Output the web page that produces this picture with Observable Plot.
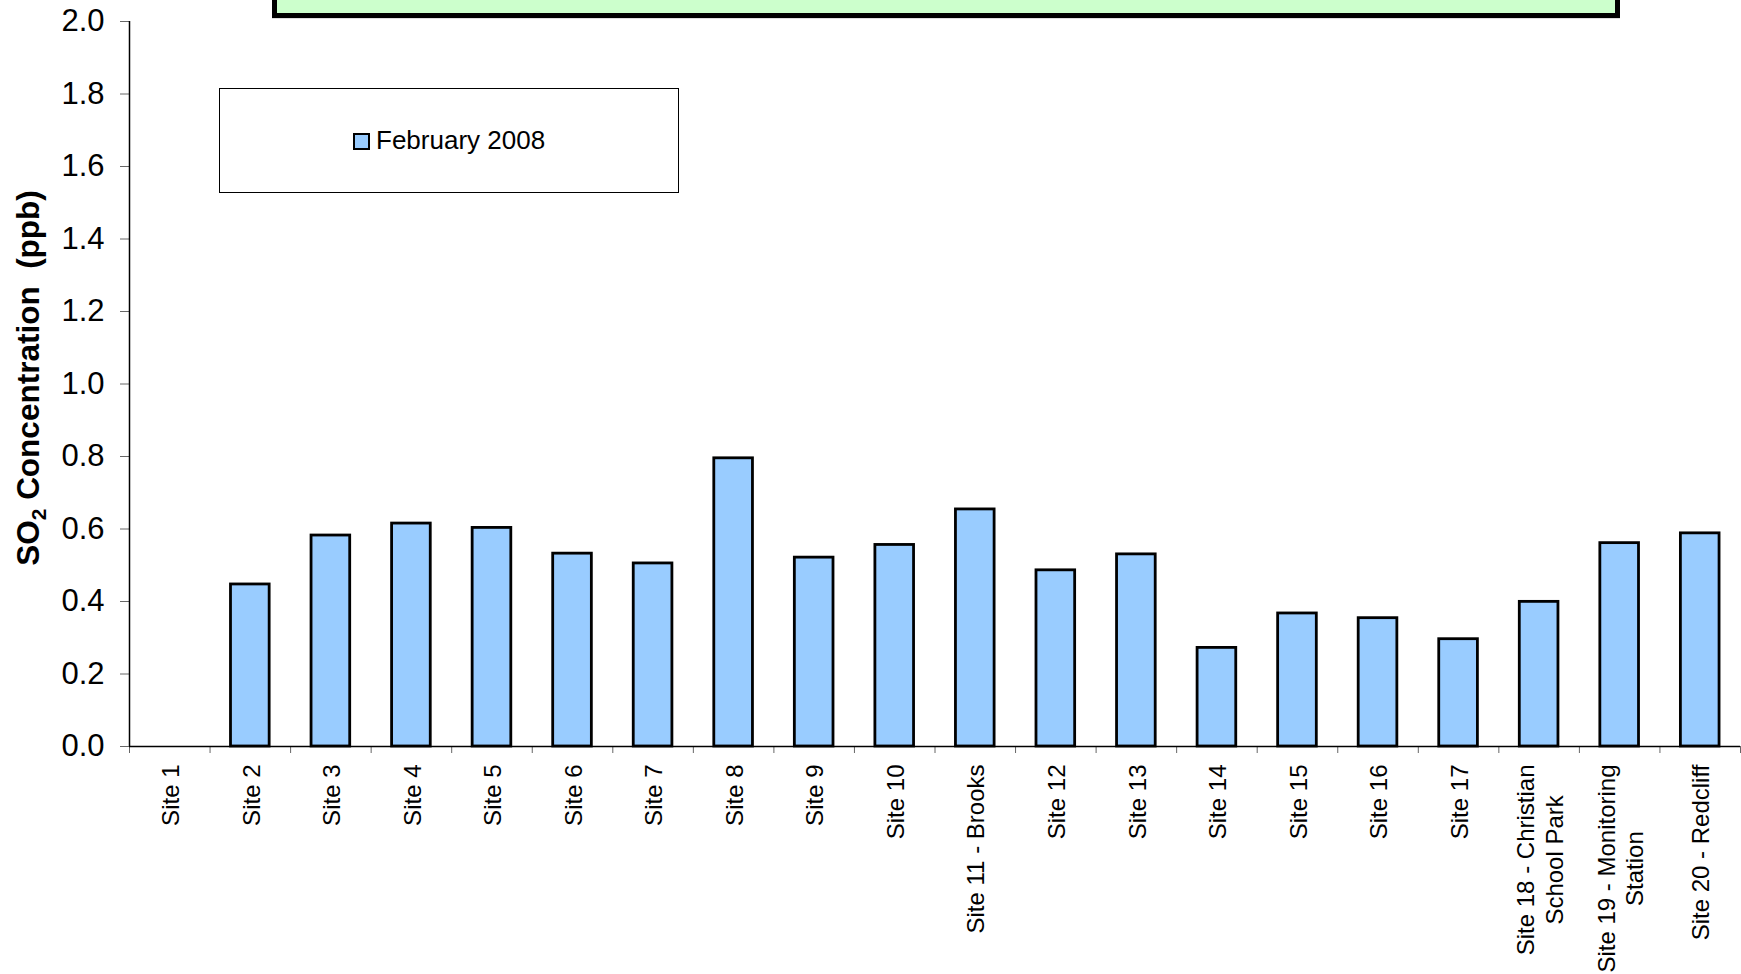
<!DOCTYPE html>
<html>
<head>
<meta charset="utf-8">
<script src="https://cdn.jsdelivr.net/npm/d3@7"></script>
<script src="https://cdn.jsdelivr.net/npm/@observablehq/plot@0.6"></script>
<style>
  html, body { margin: 0; padding: 0; background: #fff; }
  body { font-family: "Liberation Sans", Arial, sans-serif; }
  #wrap { position: relative; width: 1741px; height: 974px; overflow: hidden; }
  #chart { position: absolute; left: 0; top: 0; }
  #titlebox { position: absolute; left: 272px; top: -60px; width: 1338px; height: 68px;
              background: #CCFFCC; border: 5px solid #000; box-shadow: 0 1px 0 #ddd; }
  #legend { position: absolute; left: 219px; top: 88px; width: 458px; height: 103px;
            border: 1px solid #000; background: #fff; }
  #legend .item { position: absolute; left: 133px; top: 0; height: 100%; display: flex; align-items: center;
                  font-size: 26px; color: #000; }
  #legend .sw { width: 13px; height: 13px; border: 2px solid #000; margin-right: 6px; margin-top: 2px; }
</style>
</head>
<body>
<div id="wrap">
  <div id="chart"></div>
  <div id="titlebox"></div>
  <div id="legend"></div>
</div>
<script>
// ---- data ----
const sites = ["Site 1", "Site 2", "Site 3", "Site 4", "Site 5", "Site 6", "Site 7", "Site 8", "Site 9", "Site 10",
  "Site 11 - Brooks", "Site 12", "Site 13", "Site 14", "Site 15", "Site 16", "Site 17",
  "Site 18 - Christian\nSchool Park", "Site 19 - Monitoring\nStation", "Site 20 - Redcliff"];
const feb2008 = [null, 0.447, 0.582, 0.615, 0.603, 0.532, 0.505, 0.795, 0.521, 0.556,
  0.654, 0.486, 0.530, 0.272, 0.367, 0.354, 0.296, 0.399, 0.561, 0.588];
const seriesNames = ["February 2008"];
const yTicks = [0, 0.2, 0.4, 0.6, 0.8, 1.0, 1.2, 1.4, 1.6, 1.8, 2.0];
const yTitleParts = ["SO", "2", " Concentration  (ppb)"];

const barColor = "#99CCFF";
const font = "'Liberation Sans', Arial, sans-serif";

const data = sites.map((s, i) => ({site: s, index: i, value: feb2008[i]})).filter(d => d.value != null);
const boundaries = d3.range(sites.length + 1);
const centers = sites.map((s, i) => i + 0.5);

const chart = Plot.plot({
  width: 1741,
  height: 974,
  marginLeft: 129,
  marginRight: 1,
  marginTop: 21,
  marginBottom: 228,
  style: {fontFamily: font, background: "transparent", color: "#000", overflow: "visible"},
  x: {type: "linear", domain: [0, sites.length]},
  y: {domain: [0, 2]},
  marks: [
    Plot.rectY(data, {x1: d => d.index + 0.26, x2: d => d.index + 0.74, y: "value",
      fill: barColor, stroke: "#000", strokeWidth: 2.8}),
    Plot.axisY({ticks: yTicks, tickFormat: d3.format(".1f"), tickSize: 9, tickPadding: 16,
      fontSize: 31, stroke: "#666", fill: "#000", label: null}),
    Plot.axisX({ticks: boundaries, tickFormat: () => "", tickSize: 7, stroke: "#666", label: null}),
    Plot.axisX({ticks: centers, tickFormat: v => sites[Math.floor(v)], tickSize: 0, tickPadding: 18,
      rotate: -90, textAnchor: "middle", lineAnchor: "middle", lineHeight: 1.2,
      fontSize: 24, fill: "#000", label: null}),
    Plot.ruleY([0], {stroke: "#000", strokeWidth: 1.5}),
    Plot.ruleX([0], {stroke: "#000", strokeWidth: 1.5}),
    Plot.text([yTitleParts.join("")], {frameAnchor: "left", rotate: -90, dx: -101, dy: -6,
      textAnchor: "middle", lineAnchor: "middle", fontSize: 31.5, fontWeight: "bold", fill: "#000"})
  ]
});
document.getElementById("chart").appendChild(chart);

// x tick labels: center the lines of each label on one another, and hang the block from the axis
chart.querySelectorAll('g[aria-label="x-axis tick label"] text').forEach(t => {
  const w = t.getBBox().width;
  const tr = t.getAttribute("transform") || "";
  t.setAttribute("transform", tr + ` translate(${-w / 2},0)`);
});

// y title with subscript
chart.querySelectorAll("text").forEach(t => {
  if (t.textContent === yTitleParts.join("")) {
    t.textContent = "";
    t.style.whiteSpace = "pre";
    const ns = "http://www.w3.org/2000/svg";
    const a = document.createElementNS(ns, "tspan"); a.textContent = yTitleParts[0];
    const b = document.createElementNS(ns, "tspan"); b.textContent = yTitleParts[1];
    b.setAttribute("font-size", "21"); b.setAttribute("dy", "7");
    const c = document.createElementNS(ns, "tspan"); c.textContent = yTitleParts[2];
    c.setAttribute("dy", "-7");
    t.append(a, b, c);
  }
});

// legend
const legend = document.getElementById("legend");
seriesNames.forEach(name => {
  const item = document.createElement("div");
  item.className = "item";
  const sw = document.createElement("span");
  sw.className = "sw";
  sw.style.background = barColor;
  const label = document.createElement("span");
  label.textContent = name;
  item.append(sw, label);
  legend.appendChild(item);
});
</script>
</body>
</html>
